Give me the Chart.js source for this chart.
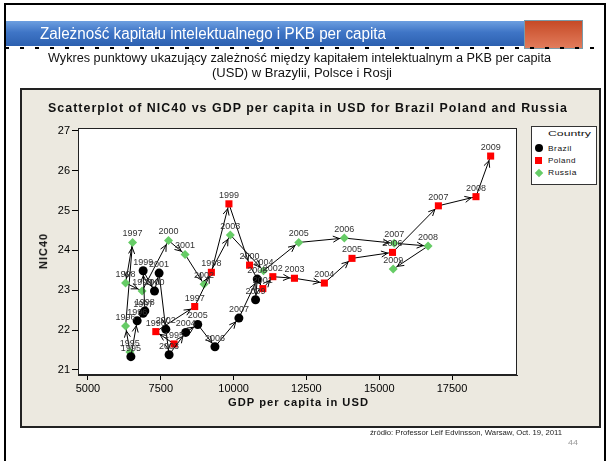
<!DOCTYPE html>
<html><head><meta charset="utf-8">
<script src="https://cdn.jsdelivr.net/npm/chart.js@4.4.1/dist/chart.umd.min.js"></script>
<style>
body{margin:0;width:611px;height:461px;position:relative;overflow:hidden;background:#fff;font-family:"Liberation Sans",Arial,sans-serif}
.t{position:absolute;white-space:nowrap;transform-origin:0 50%;line-height:1}
.box{position:absolute;box-sizing:border-box}
</style></head><body>
<div class="box" style="left:4px;top:3px;width:602px;height:470px;border:2px solid #000"></div>
<div class="box" style="left:6px;top:21px;width:519px;height:25px;background:linear-gradient(#6d9fe0,#3f75c6 45%,#2c60b0)"></div>
<div class="box" style="left:524px;top:20px;width:59px;height:29px;background:linear-gradient(#c64a26,#e27c5c);border:1px solid #7a9aa8"></div>
<div class="box" style="left:5px;top:47px;width:598px;height:2px;background:repeating-linear-gradient(90deg,#000 0 4px,transparent 4px 15px)"></div>
<div class="box" style="left:20px;top:88px;width:581px;height:340px;background:#ECE9E0;border:2px solid #222"></div>
<canvas id="c" width="611" height="461" style="position:absolute;left:0;top:0"></canvas>
<div class="box" style="left:531px;top:126px;width:66px;height:59px;background:#fff;border:1px solid #333"></div>
<div class="box" style="left:535px;top:144px;width:8px;height:8px;border-radius:50%;background:#000"></div>
<div class="box" style="left:535px;top:157px;width:7px;height:7px;background:#f00"></div>
<div class="box" style="left:535.5px;top:169.5px;width:6px;height:6px;background:#66cc66;transform:rotate(45deg)"></div>
<script>
// ---- data ----
const years = ['1995','1996','1997','1998','1999','2000','2001','2002','2003','2004','2005','2006','2007','2008','2009'];
const brazilGDP = [6473,6689,6894,6952,6894,7284,7442,7672,7785,8357,8768,9360,10182,10812,10754];
const brazilNIC = [21.33,22.23,22.42,22.48,23.49,22.98,23.43,22.02,21.38,21.94,22.14,21.58,22.30,23.28,22.76];
const polandGDP = [7956,7329,8665,9237,9840,10549,11004,11347,12090,13117,14066,15457,17032,18323,18827];
const polandNIC = [21.65,21.96,22.59,23.45,25.17,23.63,23.04,23.34,23.30,23.18,23.80,23.95,25.12,25.35,26.37];
const russiaGDP = [6438,6291,6531,6291,6860,7764,8333,8983,9888,11028,12237,13802,15515,16679,15481];
const russiaNIC = [21.45,22.10,24.20,23.18,22.98,24.25,23.90,23.15,24.39,23.49,24.20,24.31,24.18,24.11,23.53];
const xTicks = [5000,7500,10000,12500,15000,17500];
const yTicks = [21,22,23,24,25,26,27];

const pts = (xs, ys) => years.map((yr,i)=>({x:xs[i], y:ys[i], year:yr}));

const deco = {
  id:'deco',
  beforeDraw(chart){
    const {ctx, chartArea:a} = chart;
    ctx.save(); ctx.fillStyle='#fff'; ctx.fillRect(a.left,a.top,a.right-a.left,a.bottom-a.top); ctx.restore();
  },
  afterDraw(chart){
    const {ctx, chartArea:a} = chart;
    ctx.save(); ctx.strokeStyle='#222'; ctx.lineWidth=1;
    ctx.strokeRect(a.left+0.5,a.top+0.5,a.right-a.left-1,a.bottom-a.top-1);
    ctx.restore();
  },
  afterDatasetsDraw(chart){
    const ctx = chart.ctx;
    ctx.save();
    ctx.strokeStyle='#000'; ctx.lineWidth=1;
    chart.data.datasets.forEach((ds,di)=>{
      const els = chart.getDatasetMeta(di).data;
      for(let i=1;i<els.length;i++){
        const a=els[i-1], b=els[i];
        const dx=b.x-a.x, dy=b.y-a.y, L=Math.hypot(dx,dy);
        if(L<6) continue;
        const ux=dx/L, uy=dy/L;
        const tx=b.x-ux*5, ty=b.y-uy*5;
        const ang=Math.atan2(uy,ux), w=0.45, l=7;
        ctx.beginPath();
        ctx.moveTo(tx-l*Math.cos(ang-w), ty-l*Math.sin(ang-w));
        ctx.lineTo(tx,ty);
        ctx.lineTo(tx-l*Math.cos(ang+w), ty-l*Math.sin(ang+w));
        ctx.stroke();
      }
    });
    ctx.fillStyle='#333'; ctx.font='9px "Liberation Sans", Arial, sans-serif';
    ctx.textAlign='center'; ctx.textBaseline='alphabetic';
    chart.data.datasets.forEach((ds,di)=>{
      const els = chart.getDatasetMeta(di).data;
      els.forEach((e,i)=>{ ctx.fillText(ds.data[i].year, e.x, e.y-6); });
    });
    ctx.restore();
  }
};

const common = {showLine:true, borderColor:'#000', borderWidth:1, tension:0, pointBorderWidth:0};
new Chart(document.getElementById('c'), {
  type:'scatter',
  data:{datasets:[
    {...common, label:'Brazil', data:pts(brazilGDP,brazilNIC), pointStyle:'circle', pointRadius:4.5, pointBackgroundColor:'#000', pointBorderColor:'#000'},
    {...common, label:'Poland', data:pts(polandGDP,polandNIC), pointStyle:'rect', pointRadius:5, pointBackgroundColor:'#f00', pointBorderColor:'#f00'},
    {...common, label:'Russia', data:pts(russiaGDP,russiaNIC), pointStyle:'rectRot', pointRadius:4.5, pointBackgroundColor:'#66cc66', pointBorderColor:'#66cc66'}
  ]},
  options:{
    responsive:false, animation:false, devicePixelRatio:1,
    layout:{padding:{left:0,top:128,right:94,bottom:0}},
    plugins:{legend:{display:false}, tooltip:{enabled:false}},
    scales:{
      x:{type:'linear', min:4657, max:19732,
         afterFit(s){s.height=86;},
         afterBuildTicks(s){s.ticks=xTicks.map(v=>({value:v}));},
         ticks:{color:'#000', font:{size:11, family:'"Liberation Sans", Arial'}, padding:2, callback:v=>String(v), maxRotation:0, autoSkip:false},
         grid:{drawOnChartArea:false, drawTicks:true, tickLength:5, color:'#000'},
         border:{display:true, color:'#222'}},
      y:{type:'linear', min:20.87, max:27.075,
         afterFit(s){s.width=78;},
         afterBuildTicks(s){s.ticks=yTicks.map(v=>({value:v}));},
         ticks:{color:'#000', font:{size:11, family:'"Liberation Sans", Arial'}, padding:2, callback:v=>String(v), autoSkip:false},
         grid:{drawOnChartArea:false, drawTicks:true, tickLength:6, color:'#000'},
         border:{display:true, color:'#222'}}
    }
  },
  plugins:[deco]
});

// ---- text ----
function put(txt, x0, x1, cy, font, color, ls){
  const s=document.createElement('div'); s.className='t'; s.textContent=txt;
  s.style.font=font; s.style.color=color; if(ls) s.style.letterSpacing=ls;
  document.body.appendChild(s);
  const r=s.getBoundingClientRect();
  s.style.left=x0+'px'; s.style.top=(cy-r.height/2)+'px';
  s.style.transform='scaleX('+((x1-x0)/r.width)+')';
  return s;
}
put('Zależność kapitału intelektualnego i PKB per capita', 40, 386, 34, '16px "Liberation Sans", Arial', '#fff');
put('Wykres punktowy ukazujący zależność między kapitałem intelektualnym a PKB per capita', 48, 551, 58, '12px "Liberation Sans", Arial', '#111');
put('(USD) w Brazylii, Polsce i Rosji', 212, 392, 73, '12px "Liberation Sans", Arial', '#111');
put('Scatterplot of NIC40 vs GDP per capita in USD for Brazil Poland and Russia', 48, 568, 108, 'bold 12px "Liberation Sans", Arial', '#111', '1px');
put('GDP per capita in USD', 228, 369, 402, 'bold 11px "Liberation Sans", Arial', '#111', '1px');
put('Country', 548, 591, 133, '8px "Liberation Sans", Arial', '#111');
put('Brazil', 548, 572, 148, '8px "Liberation Sans", Arial', '#111', '0.5px');
put('Poland', 548, 576, 160, '8px "Liberation Sans", Arial', '#111', '0.5px');
put('Russia', 548, 577, 172, '8px "Liberation Sans", Arial', '#111', '0.5px');
put('źródło: Professor Leif Edvinsson, Warsaw, Oct. 19, 2011', 370, 562, 432, '7px "Liberation Sans", Arial', '#222');
put('44', 568, 578, 442, '8px "Liberation Sans", Arial', '#999');
const yt=document.createElement('div'); yt.className='t'; yt.textContent='NIC40';
yt.style.font='bold 11px "Liberation Sans", Arial'; yt.style.letterSpacing='1px'; yt.style.color='#111';
document.body.appendChild(yt);
const rr=yt.getBoundingClientRect();
yt.style.transformOrigin='50% 50%';
yt.style.left=(43-rr.width/2)+'px'; yt.style.top=(251-rr.height/2)+'px';
yt.style.transform='rotate(-90deg)';
</script>
</body></html>
